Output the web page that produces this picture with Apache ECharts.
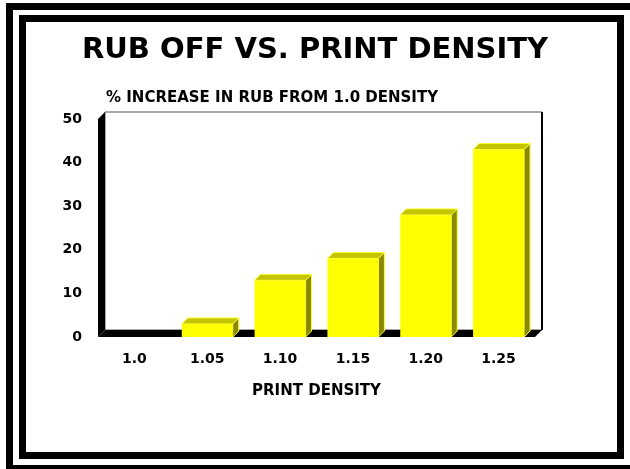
<!DOCTYPE html>
<html>
<head>
<meta charset="UTF-8">
<title>rub off</title>
<script type="text/javascript" src="https://cdn.jsdelivr.net/npm/echarts@6/dist/echarts.min.js"></script>
<style>
  html, body { margin: 0; padding: 0; background: #fff; }
  #container { width: 630px; height: 469px; }
</style>
</head>
<body>
<div id="container"></div>
<script type="text/javascript">
    var categories = ['1.0', '1.05', '1.10', '1.15', '1.20', '1.25'];
    var rubIncrease = [0, 3, 13, 18, 28, 43];
    var yTicks = [0, 10, 20, 30, 40, 50];

    var font = 'DejaVu Sans';
    // front plane of the plot, wall depth and bar depth
    var gLeft = 98, gTop = 119, gWidth = 437, gHeight = 218;
    var wallD = 7, barD = 6;

    var dom = document.getElementById('container');
    var myChart = echarts.init(dom);

    var gRight = gLeft + gWidth, gBottom = gTop + gHeight;

    var option = {
        animation: false,
        backgroundColor: '#fff',
        title: [
            {
                text: 'RUB OFF VS. PRINT DENSITY',
                left: 'center',
                top: 36,
                padding: 0,
                textStyle: { fontFamily: font, fontWeight: 'bold', fontSize: 29, color: '#000' }
            },
            {
                text: '% INCREASE IN RUB FROM 1.0 DENSITY',
                left: 106,
                top: 91,
                padding: 0,
                textStyle: { fontFamily: font, fontWeight: 'bold', fontSize: 15, color: '#000' }
            }
        ],
        graphic: [
            // double frame
            { type: 'rect', z: 0, shape: { x: 9.5, y: 6.5, width: 624, height: 462 },
              style: { fill: null, stroke: '#000', lineWidth: 7 } },
            { type: 'rect', z: 0, shape: { x: 22.5, y: 18.5, width: 598, height: 437 },
              style: { fill: null, stroke: '#000', lineWidth: 7 } },
            // back wall
            { type: 'rect', z: 0, shape: { x: gLeft + wallD, y: gTop - wallD, width: gWidth, height: gHeight },
              style: { fill: '#fff', stroke: '#555', lineWidth: 1 } },
            { type: 'line', z: 0, shape: { x1: gRight + wallD, y1: gTop - wallD, x2: gRight + wallD, y2: gBottom - wallD },
              style: { stroke: '#000', lineWidth: 2 } },
            // left wall
            { type: 'polygon', z: 0, shape: { points: [[gLeft, gTop], [gLeft + wallD, gTop - wallD], [gLeft + wallD, gBottom - wallD], [gLeft, gBottom]] },
              style: { fill: '#000' } },
            // floor
            { type: 'polygon', z: 0, shape: { points: [[gLeft, gBottom], [gLeft + wallD, gBottom - wallD], [gRight + wallD, gBottom - wallD], [gRight, gBottom]] },
              style: { fill: '#000' } }
        ],
        grid: { left: gLeft, top: gTop, width: gWidth, height: gHeight },
        xAxis: {
            type: 'category',
            data: categories,
            name: 'PRINT DENSITY',
            nameLocation: 'middle',
            nameGap: 47,
            nameTextStyle: { fontFamily: font, fontWeight: 'bold', fontSize: 15, color: '#000' },
            axisLine: { show: false },
            axisTick: { show: false },
            axisLabel: { margin: 15, fontFamily: font, fontWeight: 'bold', fontSize: 14, color: '#000' }
        },
        yAxis: {
            type: 'value',
            min: yTicks[0],
            max: yTicks[yTicks.length - 1],
            interval: 10,
            axisLine: { show: false },
            axisTick: { show: false },
            splitLine: { show: false },
            axisLabel: { margin: 16, fontFamily: font, fontWeight: 'bold', fontSize: 14, color: '#000' }
        },
        series: [{
            type: 'custom',
            z: 5,
            data: rubIncrease.map(function (v, i) { return [i, v]; }),
            encode: { x: 0, y: 1 },
            renderItem: function (params, api) {
                var v = api.value(1);
                if (!v) return null;
                var top = api.coord([api.value(0), v]);
                var base = api.coord([api.value(0), 0]);
                var w = api.size([1, 0])[0] * 0.7;
                var x0 = top[0] - w / 2, x1 = top[0] + w / 2;
                var y0 = top[1], y1 = base[1];
                return {
                    type: 'group',
                    children: [
                        { type: 'rect', shape: { x: x0, y: y0, width: w, height: y1 - y0 },
                          style: { fill: '#ffff00' } },
                        { type: 'polygon', shape: { points: [[x0, y0], [x0 + barD, y0 - barD], [x1 + barD, y0 - barD], [x1, y0]] },
                          style: { fill: '#c4c400', stroke: '#ffff33', lineWidth: 1 } },
                        { type: 'polygon', shape: { points: [[x1, y0], [x1 + barD, y0 - barD], [x1 + barD, y1 - barD], [x1, y1]] },
                          style: { fill: '#8a8a00', stroke: '#ffff33', lineWidth: 1 } }
                    ]
                };
            }
        }]
    };

    myChart.setOption(option);
</script>
</body>
</html>
